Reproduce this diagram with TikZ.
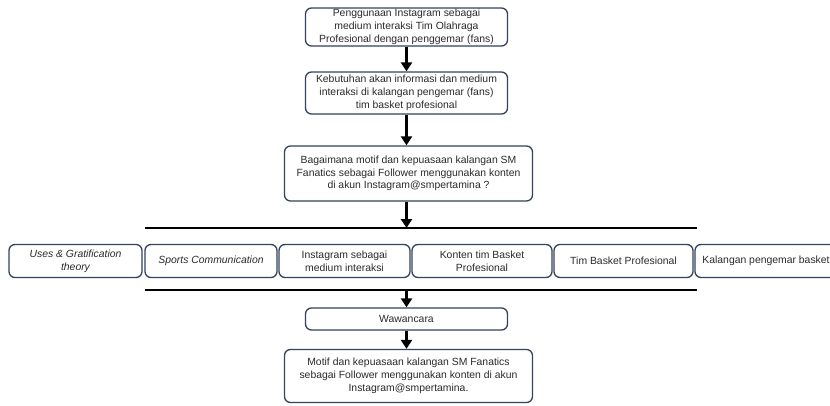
\documentclass[tikz,border=0pt]{standalone}
\usepackage{fontspec}
\setmainfont{Liberation Sans}
\usetikzlibrary{arrows.meta}
\definecolor{bordc}{HTML}{34425E}
\definecolor{txtc}{HTML}{2A2A2A}
\tikzset{
  box/.style={draw=bordc, line width=1.3pt, rounded corners=6pt, fill=white,
    text=txtc, font=\fontsize{10.4}{12.8}\selectfont, align=center, inner sep=0pt},
  itbox/.style={box, font=\fontsize{10.4}{12.8}\selectfont\itshape},
  flowarrow/.style={draw=black, line width=2.6pt, -{Triangle[length=9pt,width=11pt]}, shorten >=0pt},
  sepline/.style={draw=black, line width=2pt}
}
\begin{document}
\begin{tikzpicture}[x=1pt,y=-1pt]
\useasboundingbox (0,0) rectangle (830,405);
% vertical flow boxes
\node[box, minimum width=202pt, minimum height=38pt] (b1) at (406.5,27)
  {Penggunaan Instagram sebagai\\medium interaksi Tim Olahraga\\Profesional dengan penggemar (fans)};
\node[box, minimum width=202pt, minimum height=42pt] (b2) at (406.5,93)
  {Kebutuhan akan informasi dan medium\\interaksi di kalangan pengemar (fans)\\tim basket profesional};
\node[box, minimum width=248pt, minimum height=55pt] (b3) at (408.5,173.5)
  {Bagaimana motif dan kepuasaan kalangan SM\\Fanatics sebagai Follower menggunakan konten\\di akun Instagram@smpertamina ?};
% separator lines
\coordinate (l1a) at (145,228);
\coordinate (l1b) at (697,228);
\coordinate (l1m) at (406.5,228);
\coordinate (l2a) at (145,290);
\coordinate (l2b) at (697,290);
\coordinate (l2m) at (406.5,290);
\draw[sepline] (l1a) -- (l1b);
\draw[sepline] (l2a) -- (l2b);
% row of concept boxes
\node[itbox, minimum width=133pt, minimum height=33pt] (c1) at (75.5,261)
  {Uses \& Gratification\\theory};
\node[itbox, minimum width=132pt, minimum height=33pt] (c2) at (211,261)
  {Sports Communication};
\node[box, minimum width=131pt, minimum height=33pt] (c3) at (344.5,261)
  {Instagram sebagai\\medium interaksi};
\node[box, minimum width=140pt, minimum height=33pt] (c4) at (482,261)
  {Konten tim Basket\\Profesional};
\node[box, minimum width=139pt, minimum height=33pt] (c5) at (623.5,261)
  {Tim Basket Profesional};
\node[box, minimum width=142pt, minimum height=33pt] (c6) at (766,261)
  {Kalangan pengemar basket};
% lower boxes
\node[box, minimum width=202pt, minimum height=22pt] (b4) at (406.5,319)
  {Wawancara};
\node[box, minimum width=248pt, minimum height=53pt] (b5) at (408.5,376)
  {Motif dan kepuasaan kalangan SM Fanatics\\sebagai Follower menggunakan konten di akun\\Instagram@smpertamina.};
% arrows
\draw[flowarrow] (b1.south) -- (b2.north);
\draw[flowarrow] (b2.south) -- (b3.north -| b2.south);
\draw[flowarrow] (b3.south -| b2.south) -- (l1m);
\draw[flowarrow] (l2m) -- (b4.north);
\draw[flowarrow] (b4.south) -- (b5.north -| b4.south);
\end{tikzpicture}
\end{document}
